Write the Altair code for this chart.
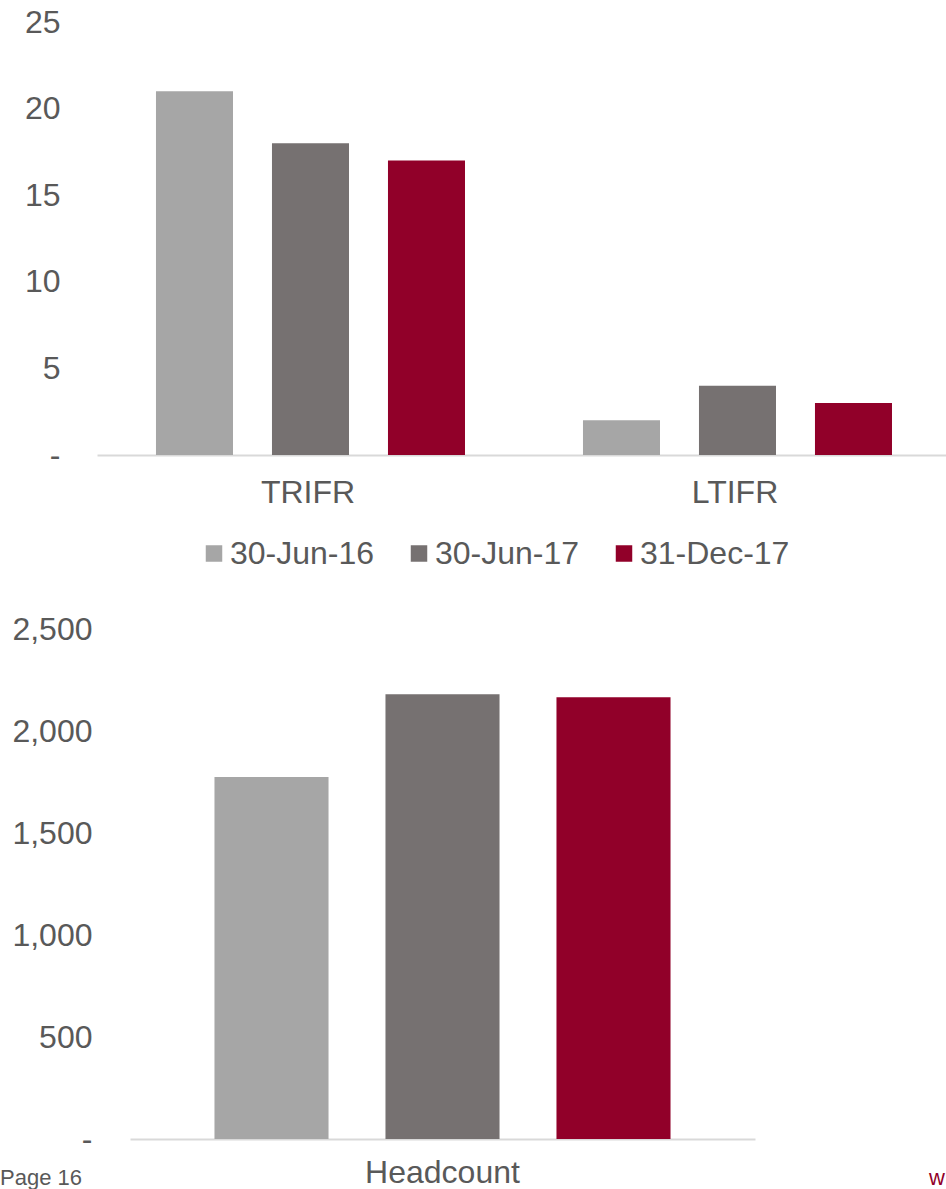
import altair as alt
import pandas as pd

# ---- data ----
series = ["30-Jun-16", "30-Jun-17", "31-Dec-17"]
colors = ["#a6a6a6", "#767171", "#910029"]
metrics = ["TRIFR", "LTIFR"]
trifr = [21, 18, 17]
ltifr = [2, 4, 3]
headcount_cat = ["Headcount"]
headcount = [1775, 2180, 2165]
top_ticks = [0, 5, 10, 15, 20, 25]
bottom_ticks = [0, 500, 1000, 1500, 2000, 2500]
page_text = ["Page 16"]
url_text = ["w"]

FONT = "Liberation Sans"
FS = 32
TXT = "#595959"
RED = "#910029"
AXIS_LINE = "#d9d9d9"
LABEL_EXPR = "datum.value == 0 ? '-' : format(datum.value, ',')"

top_df = pd.DataFrame({
    "metric": [m for m in metrics for _ in series],
    "series": series * 2,
    "value": trifr + ltifr,
})
bot_df = pd.DataFrame({
    "metric": headcount_cat * len(series),
    "series": series,
    "value": headcount,
})

color_scale = alt.Scale(domain=series, range=colors)


def x_axis(pad, max_extent=None):
    kw = dict(title=None, labelAngle=0, ticks=False, tickSize=0,
              domainColor=AXIS_LINE, domainWidth=2, labelPadding=pad,
              labelFontSize=FS, labelColor=TXT, labelFont=FONT)
    if max_extent is not None:
        kw["maxExtent"] = max_extent
        kw["minExtent"] = 0
    return alt.Axis(**kw)


def y_axis(vals, pad, extent):
    return alt.Axis(values=vals, labelExpr=LABEL_EXPR, title=None, domain=False,
                    ticks=False, tickSize=0, grid=False, labelPadding=pad,
                    labelFontSize=FS, labelColor=TXT, labelFont=FONT,
                    minExtent=extent, maxExtent=extent)


top = alt.Chart(top_df).mark_bar().encode(
    x=alt.X("metric:N", sort=metrics,
            scale=alt.Scale(paddingInner=0.0117, paddingOuter=0),
            axis=x_axis(22.5)),
    xOffset=alt.XOffset("series:N", sort=series,
                        scale=alt.Scale(paddingInner=0.336, paddingOuter=0.487,
                                        align=0.522)),
    y=alt.Y("value:Q", scale=alt.Scale(domain=[0, 25], nice=False),
            axis=y_axis(top_ticks, 37, 97)),
    color=alt.Color("series:N", scale=color_scale, sort=series,
                    legend=alt.Legend(orient="none", legendX=101, legendY=515.5,
                                      direction="horizontal", title=None,
                                      symbolType="square", symbolSize=272,
                                      symbolStrokeWidth=0, labelFontSize=FS,
                                      labelColor=TXT, labelFont=FONT,
                                      columnPadding=28, labelOffset=0,
                                      padding=0, rowPadding=0)),
).properties(width=849, height=433)

bottom_bars = alt.Chart(bot_df).mark_bar().encode(
    x=alt.X("metric:N",
            scale=alt.Scale(paddingInner=0, paddingOuter=0, range=[33, 658]),
            axis=x_axis(18, 51)),
    xOffset=alt.XOffset("series:N", sort=series,
                        scale=alt.Scale(paddingInner=0.333, paddingOuter=0.494)),
    y=alt.Y("value:Q", scale=alt.Scale(domain=[0, 2500], nice=False),
            axis=y_axis(bottom_ticks, 5, 97)),
    color=alt.Color("series:N", scale=color_scale, sort=series, legend=None),
)

page_label = alt.Chart(pd.DataFrame({"t": page_text})).mark_text(
    align="left", baseline="alphabetic", font=FONT, fontSize=22, color=TXT
).encode(text="t:N", x=alt.value(-97), y=alt.value(556))

url_label = alt.Chart(pd.DataFrame({"t": url_text})).mark_text(
    align="left", baseline="alphabetic", font=FONT, fontSize=22, color=RED
).encode(text="t:N", x=alt.value(832), y=alt.value(556))

bottom = alt.layer(bottom_bars, page_label, url_label).properties(width=658, height=510)

chart = alt.vconcat(top, bottom, spacing=43).resolve_scale(
    x="independent", y="independent", color="independent", xOffset="independent"
).configure(font=FONT).configure_view(stroke=None).properties(
    padding={"left": 0, "top": 6, "right": 0, "bottom": 0},
    background="white",
)

chart.save("out.html", embed_options={"renderer": "svg", "actions": False})
